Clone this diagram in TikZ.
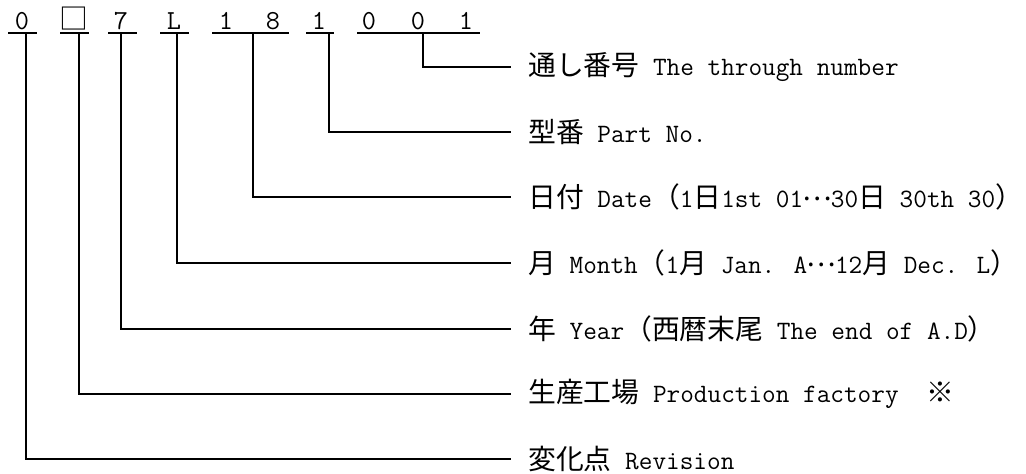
\documentclass[tikz,border=0pt]{standalone}
\usepackage{fontspec}
\newfontfamily\cjk{Noto Sans CJK JP}[Scale=1.049]
\newcommand\J[1]{{\cjk #1}}
\newcommand\mydots{\makebox[27.8pt]{\raisebox{0.28em}{\J{…}}}}
\begin{document}
\begin{tikzpicture}[x=1pt,y=-1pt,
  lbl/.style={anchor=west,inner xsep=17pt,inner ysep=0pt,font=\fontsize{26.5}{33}\selectfont\ttfamily},
  dig/.style={anchor=base,inner sep=0pt,font=\fontsize{27.5}{33}\selectfont\ttfamily},
  ln/.style={line width=1.7pt}]
\useasboundingbox (0,0) rectangle (1026,474);
% top code characters
\node[dig] (c1) at (22,29) {0};
\node[dig] (c2) at (74,29) {\J{□}};
\node[dig] (c3) at (121,29) {7};
\node[dig] (c4) at (174,29) {L};
\node[dig] (c5) at (226,29) {1};
\node[dig] (c6) at (273,29) {8};
\node[dig] (c7) at (319,29) {1};
\node[dig] (c8) at (369,29) {0};
\node[dig] (c9) at (418,29) {0};
\node[dig] (c10) at (466,29) {1};
% underline end points
\coordinate (a1) at (8,33);   \coordinate (b1) at (37,33);
\coordinate (a2) at (60,33);  \coordinate (b2) at (89,33);
\coordinate (a3) at (108,33); \coordinate (b3) at (137,33);
\coordinate (a4) at (160,33); \coordinate (b4) at (189,33);
\coordinate (a5) at (212,33); \coordinate (b5) at (289,33);
\coordinate (a6) at (306,33); \coordinate (b6) at (334,33);
\coordinate (a7) at (357,33); \coordinate (b7) at (480,33);
% drop points
\coordinate (d1) at (26,33);
\coordinate (d2) at (79,33);
\coordinate (d3) at (121,33);
\coordinate (d4) at (177,33);
\coordinate (d5) at (253,33);
\coordinate (d6) at (329,33);
\coordinate (d7) at (423,33);
% labels
\node[lbl] (l1) at (511,67)  {\J{通し番号} The through number};
\node[lbl] (l2) at (511,132) {\J{型番} Part No.};
\node[lbl] (l3) at (511,197) {\J{日付} Date\J{（}1\J{日}1st 01\mydots 30\J{日} 30th 30\J{）}};
\node[lbl] (l4) at (511,263) {\J{月} Month\J{（}1\J{月} Jan. A\mydots 12\J{月} Dec. L\J{）}};
\node[lbl] (l5) at (511,329) {\J{年} Year\J{（西暦末尾} The end of A.D\J{）}};
\node[lbl] (l6) at (511,394) {\J{生産工場} Production factory\J{　※}};
\node[lbl] (l7) at (511,459) {\J{変化点} Revision};
% underlines
\foreach \i in {1,...,7} \draw[ln] (a\i) -- (b\i);
% connectors
\draw[ln] (d7) |- (l1.west);
\draw[ln] (d6) |- (l2.west);
\draw[ln] (d5) |- (l3.west);
\draw[ln] (d4) |- (l4.west);
\draw[ln] (d3) |- (l5.west);
\draw[ln] (d2) |- (l6.west);
\draw[ln] (d1) |- (l7.west);
\end{tikzpicture}
\end{document}
